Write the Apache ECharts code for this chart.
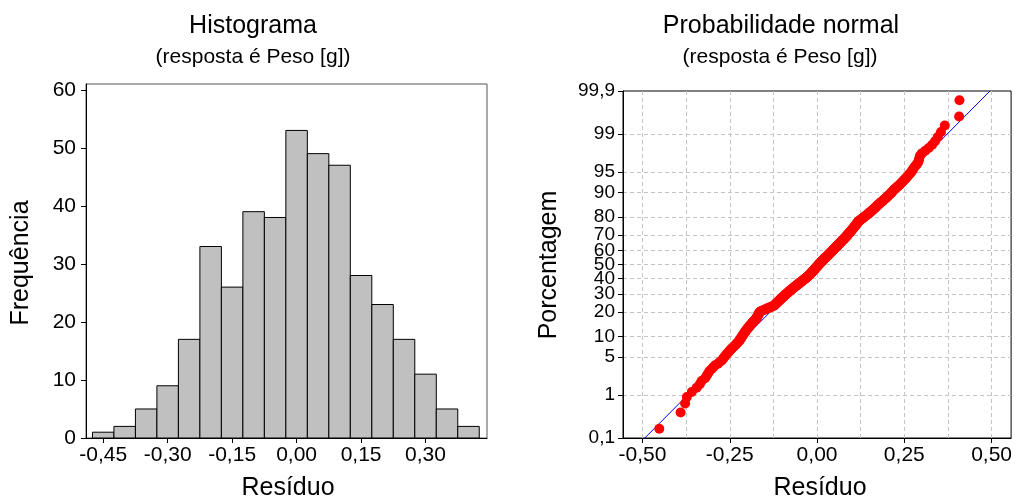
<!DOCTYPE html>
<html>
<head>
<meta charset="utf-8">
<script src="https://cdn.jsdelivr.net/npm/echarts@6/dist/echarts.min.js"></script>
<style>
html, body { margin: 0; padding: 0; background: #fff; }
#main { width: 1015px; height: 500px; }
</style>
</head>
<body>
<div id="main"></div>
<script>
// histogram (left panel)
var binCenters = [-0.45, -0.40, -0.35, -0.30, -0.25, -0.20, -0.15, -0.10, -0.05,
                  0.00, 0.05, 0.10, 0.15, 0.20, 0.25, 0.30, 0.35, 0.40];
var binCounts = [1, 2, 5, 9, 17, 33, 26, 39, 38, 53, 49, 47, 28, 23, 17, 11, 5, 2];
var binWidth = 0.05;
var histXTicks = [-0.45, -0.30, -0.15, 0.00, 0.15, 0.30];
var histYTicks = [0, 10, 20, 30, 40, 50, 60];

// sorted residuals (right panel)
var residuals = [
  -0.452,
  -0.391, -0.378,
  -0.373, -0.359, -0.345, -0.336, -0.331,
  -0.321, -0.316, -0.312, -0.308, -0.302, -0.297, -0.292, -0.284, -0.279,
  -0.273, -0.270, -0.267, -0.264, -0.261, -0.258, -0.255, -0.252, -0.249, -0.246,
  -0.243, -0.240, -0.237, -0.234, -0.231, -0.229, -0.227,
  -0.224, -0.222, -0.221, -0.219, -0.218, -0.216, -0.215, -0.213, -0.212, -0.210,
  -0.209, -0.207, -0.206, -0.205, -0.203, -0.202, -0.200, -0.199, -0.197, -0.196,
  -0.194, -0.193, -0.191, -0.190, -0.188, -0.187, -0.185, -0.184, -0.182, -0.181,
  -0.179, -0.178, -0.176,
  -0.174, -0.1735, -0.173, -0.172, -0.171, -0.1705, -0.170, -0.169, -0.168, -0.167,
  -0.1665, -0.166, -0.165, -0.164, -0.162, -0.159, -0.156, -0.152, -0.149, -0.146,
  -0.143, -0.140, -0.137, -0.134, -0.130, -0.127,
  -0.124, -0.123, -0.121, -0.120, -0.119, -0.117, -0.116, -0.115, -0.114, -0.112,
  -0.111, -0.110, -0.108, -0.107, -0.106, -0.105, -0.103, -0.102, -0.101, -0.099,
  -0.098, -0.097, -0.096, -0.094, -0.093, -0.092, -0.090, -0.089, -0.088, -0.087,
  -0.085, -0.084, -0.083, -0.081, -0.080, -0.079, -0.078, -0.077, -0.076,
  -0.074, -0.072, -0.071, -0.070, -0.068, -0.067, -0.066, -0.064, -0.063, -0.062,
  -0.060, -0.059, -0.058, -0.056, -0.055, -0.054, -0.052, -0.051, -0.050, -0.048,
  -0.047, -0.046, -0.044, -0.043, -0.042, -0.040, -0.039, -0.038, -0.036, -0.035,
  -0.034, -0.032, -0.031, -0.030, -0.029, -0.028, -0.027, -0.026,
  -0.024, -0.023, -0.022, -0.021, -0.020, -0.019, -0.018, -0.017, -0.016, -0.016,
  -0.015, -0.014, -0.013, -0.012, -0.011, -0.010, -0.009, -0.008, -0.007, -0.007,
  -0.006, -0.005, -0.004, -0.003, -0.002, -0.001, 0.000, 0.001, 0.002, 0.002,
  0.003, 0.004, 0.005, 0.006, 0.007, 0.008, 0.009, 0.010, 0.011, 0.011,
  0.012, 0.013, 0.014, 0.015, 0.016, 0.017, 0.018, 0.019, 0.020, 0.021,
  0.022, 0.023, 0.024,
  0.026, 0.027, 0.028, 0.029, 0.030, 0.031, 0.032, 0.033, 0.034, 0.035,
  0.036, 0.037, 0.038, 0.039, 0.040, 0.041, 0.042, 0.043, 0.044, 0.045,
  0.046, 0.047, 0.048, 0.049, 0.050, 0.051, 0.052, 0.053, 0.054, 0.055,
  0.056, 0.057, 0.058, 0.059, 0.060, 0.061, 0.062, 0.063, 0.064, 0.065,
  0.066, 0.067, 0.068, 0.069, 0.070, 0.071, 0.072, 0.073, 0.074,
  0.076, 0.077, 0.078, 0.079, 0.080, 0.081, 0.082, 0.083, 0.084, 0.085,
  0.086, 0.087, 0.088, 0.089, 0.090, 0.091, 0.092, 0.093, 0.094, 0.095,
  0.096, 0.097, 0.098, 0.099, 0.100, 0.101, 0.102, 0.103, 0.104, 0.105,
  0.106, 0.107, 0.108, 0.109, 0.110, 0.111, 0.112, 0.113, 0.114, 0.115,
  0.116, 0.117, 0.118, 0.119, 0.120, 0.122, 0.124,
  0.126, 0.128, 0.130, 0.131, 0.133, 0.135, 0.137, 0.139, 0.140, 0.142,
  0.144, 0.146, 0.148, 0.149, 0.151, 0.153, 0.155, 0.157, 0.158, 0.160,
  0.162, 0.164, 0.166, 0.167, 0.169, 0.171, 0.172, 0.174,
  0.176, 0.178, 0.180, 0.182, 0.185, 0.187, 0.189, 0.191, 0.193, 0.195,
  0.198, 0.200, 0.202, 0.204, 0.206, 0.208, 0.211, 0.213, 0.215, 0.217,
  0.219, 0.221, 0.224,
  0.227, 0.230, 0.233, 0.236, 0.239, 0.241, 0.244, 0.247, 0.250, 0.253,
  0.256, 0.259, 0.262, 0.265, 0.268, 0.271, 0.274,
  0.276, 0.279, 0.283, 0.287, 0.290, 0.292, 0.293, 0.295, 0.300, 0.310, 0.320,
  0.330, 0.338, 0.346, 0.355, 0.366,
  0.407, 0.408
];
var probPercents = [0.1, 1, 5, 10, 20, 30, 40, 50, 60, 70, 80, 90, 95, 99, 99.9];
var probLabels = ['0,1', '1', '5', '10', '20', '30', '40', '50', '60', '70', '80', '90', '95', '99', '99,9'];
var probXTicks = [-0.50, -0.25, 0.00, 0.25, 0.50];
var probXGrid = [-0.500, -0.375, -0.250, -0.125, 0.000, 0.125, 0.250, 0.375, 0.500];
var fitMean = 0.001;
var fitSd = 0.160;

// inverse normal cdf (Acklam), used for the probability scale
function probit(p) {
    var a = [-3.969683028665376e+01, 2.209460984245205e+02, -2.759285104469687e+02,
             1.383577518672690e+02, -3.066479806614716e+01, 2.506628277459239e+00];
    var b = [-5.447609879822406e+01, 1.615858368580409e+02, -1.556989798598866e+02,
             6.680131188771972e+01, -1.328068155288572e+01];
    var c = [-7.784894002430293e-03, -3.223964580411365e-01, -2.400758277161838e+00,
             -2.549732539343734e+00, 4.374664141464968e+00, 2.938163982698783e+00];
    var d = [7.784695709041462e-03, 3.224671290700398e-01, 2.445134137142996e+00,
             3.754408661907416e+00];
    var plow = 0.02425, q, r;
    if (p < plow) {
        q = Math.sqrt(-2 * Math.log(p));
        return (((((c[0]*q+c[1])*q+c[2])*q+c[3])*q+c[4])*q+c[5]) / ((((d[0]*q+d[1])*q+d[2])*q+d[3])*q+1);
    }
    if (p > 1 - plow) {
        q = Math.sqrt(-2 * Math.log(1 - p));
        return -(((((c[0]*q+c[1])*q+c[2])*q+c[3])*q+c[4])*q+c[5]) / ((((d[0]*q+d[1])*q+d[2])*q+d[3])*q+1);
    }
    q = p - 0.5;
    r = q * q;
    return (((((a[0]*r+a[1])*r+a[2])*r+a[3])*r+a[4])*r+a[5])*q / (((((b[0]*r+b[1])*r+b[2])*r+b[3])*r+b[4])*r+1);
}

function comma(v) {
    return v.toFixed(2).replace('-0.00', '0.00').replace('.', ',');
}

var FONT = "'Liberation Sans', Arial, sans-serif";
var n = residuals.length;
var probZ = probPercents.map(function (p) { return probit(p / 100); });
var zMin = probZ[0], zMax = probZ[probZ.length - 1];

var histData = binCenters.map(function (c, i) { return [c, binCounts[i]]; });
var probData = residuals.map(function (r, i) { return [r, probit((i + 1 - 0.3) / (n + 0.4))]; });
var fitData = [[fitMean + fitSd * zMin, zMin], [fitMean + fitSd * zMax, zMax]];

var dom = document.getElementById('main');
var myChart = echarts.init(dom, null, { renderer: 'canvas' });

var labelStyle = { color: '#000', fontSize: 21, fontFamily: FONT };
var gridDash = { color: '#c4c4c4', type: [4, 3], width: 1 };

var option = {
    backgroundColor: '#fff',
    animation: false,
    textStyle: { fontFamily: FONT },
    grid: [
        { left: 86, top: 84, width: 401, height: 354, show: true, borderColor: '#555', borderWidth: 1 },
        { left: 623, top: 91, width: 390, height: 347, show: true, borderColor: '#000', borderWidth: 1 }
    ],
    xAxis: [
        {
            gridIndex: 0, type: 'value', min: -0.49, max: 0.443,
            axisLine: { onZero: false, lineStyle: { color: '#000' } },
            axisTick: { length: 5, customValues: histXTicks, lineStyle: { color: '#000' } },
            axisLabel: Object.assign({ margin: 7, customValues: histXTicks, formatter: comma }, labelStyle),
            splitLine: { show: false }
        },
        {
            gridIndex: 1, type: 'value', min: -0.556, max: 0.556,
            axisLine: { onZero: false, lineStyle: { color: '#000' } },
            axisTick: { length: 5, customValues: probXTicks, lineStyle: { color: '#000' } },
            axisLabel: Object.assign({ margin: 7, customValues: probXTicks, formatter: comma }, labelStyle),
            splitLine: { show: false }
        },
        {
            // vertical dashed grid of the probability plot
            gridIndex: 1, type: 'value', min: -0.556, max: 0.556, position: 'bottom',
            axisLine: { show: false, onZero: false },
            axisTick: { show: false, customValues: probXGrid },
            axisLabel: { show: false },
            splitLine: { show: true, lineStyle: gridDash }
        }
    ],
    yAxis: [
        {
            gridIndex: 0, type: 'value', min: 0, max: 61,
            axisLine: { show: true, onZero: false, lineStyle: { color: '#000' } },
            axisTick: { show: true, length: 5, customValues: histYTicks, lineStyle: { color: '#000' } },
            axisLabel: Object.assign({ margin: 10, customValues: histYTicks }, labelStyle),
            splitLine: { show: false }
        },
        {
            gridIndex: 1, type: 'value', min: zMin, max: zMax,
            axisLine: { show: true, onZero: false, lineStyle: { color: '#000' } },
            axisTick: { show: true, length: 5, customValues: probZ, lineStyle: { color: '#000' } },
            axisLabel: Object.assign({
                margin: 8,
                customValues: probZ,
                formatter: function (v) {
                    var best = 0;
                    for (var i = 1; i < probZ.length; i++) {
                        if (Math.abs(probZ[i] - v) < Math.abs(probZ[best] - v)) best = i;
                    }
                    return probLabels[best];
                }
            }, labelStyle, { fontSize: 19 }),
            splitLine: { show: true, showMinLine: false, showMaxLine: false, lineStyle: gridDash }
        }
    ],
    graphic: [
        { type: 'text', x: 253, y: 26, style: { text: 'Histograma', font: '25px ' + FONT, fill: '#000', textAlign: 'center', textVerticalAlign: 'middle' } },
        { type: 'text', x: 253, y: 57, style: { text: '(resposta é Peso [g])', font: '21px ' + FONT, fill: '#000', textAlign: 'center', textVerticalAlign: 'middle' } },
        { type: 'text', x: 781, y: 26, style: { text: 'Probabilidade normal', font: '25px ' + FONT, fill: '#000', textAlign: 'center', textVerticalAlign: 'middle' } },
        { type: 'text', x: 780, y: 57, style: { text: '(resposta é Peso [g])', font: '21px ' + FONT, fill: '#000', textAlign: 'center', textVerticalAlign: 'middle' } },
        { type: 'text', x: 21, y: 263, rotation: Math.PI / 2, style: { text: 'Frequência', font: '25px ' + FONT, fill: '#000', textAlign: 'center', textVerticalAlign: 'middle' } },
        { type: 'text', x: 549, y: 265, rotation: Math.PI / 2, style: { text: 'Porcentagem', font: '25px ' + FONT, fill: '#000', textAlign: 'center', textVerticalAlign: 'middle' } },
        { type: 'text', x: 288, y: 488, style: { text: 'Resíduo', font: '25px ' + FONT, fill: '#000', textAlign: 'center', textVerticalAlign: 'middle' } },
        { type: 'text', x: 820, y: 488, style: { text: 'Resíduo', font: '25px ' + FONT, fill: '#000', textAlign: 'center', textVerticalAlign: 'middle' } }
    ],
    series: [
        {
            name: 'Histograma',
            type: 'custom',
            xAxisIndex: 0, yAxisIndex: 0,
            encode: { x: 0, y: 1 },
            data: histData,
            renderItem: function (params, api) {
                var c = api.value(0), h = api.value(1);
                var p0 = api.coord([c - binWidth / 2, h]);
                var p1 = api.coord([c + binWidth / 2, 0]);
                return {
                    type: 'rect',
                    shape: { x: p0[0], y: p0[1], width: p1[0] - p0[0], height: p1[1] - p0[1] },
                    style: { fill: '#c0c0c0', stroke: '#000', lineWidth: 1 }
                };
            }
        },
        {
            name: 'Ajuste',
            type: 'line',
            xAxisIndex: 1, yAxisIndex: 1,
            data: fitData,
            symbol: 'none',
            lineStyle: { color: '#0000ff', width: 1 },
            z: 2
        },
        {
            name: 'Resíduos',
            type: 'scatter',
            xAxisIndex: 1, yAxisIndex: 1,
            data: probData,
            symbol: 'circle',
            symbolSize: 10,
            itemStyle: { color: '#ff0000', opacity: 1 },
            z: 3
        }
    ]
};

myChart.setOption(option);
</script>
</body>
</html>
